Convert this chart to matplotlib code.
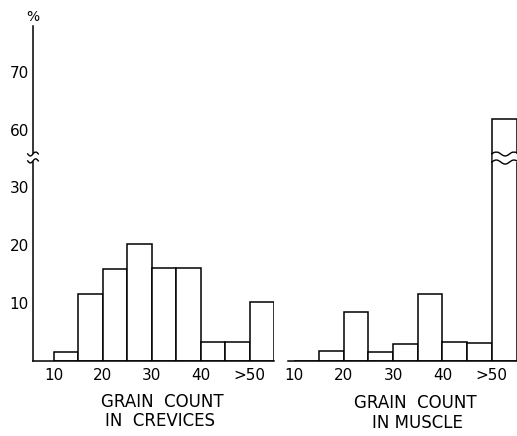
import numpy as np
import matplotlib.pyplot as plt
from matplotlib import transforms

# bin left edges (grain count), heights in percent
edges = [10, 15, 20, 25, 30, 35, 40, 45, 50]
crevices = [1.6, 11.5, 15.8, 20.1, 16.0, 16.0, 3.2, 3.2, 10.1]
muscle = [0.0, 1.8, 8.5, 1.6, 3.0, 11.5, 3.2, 3.1, 62.0]

xticks = [10, 20, 30, 40, 50]
xlabels = ['10', '20', '30', '40', '>50']
yticks = [10, 20, 30, 60, 70]

# broken y scale: 36..56.2 is cut out
B1, B2 = 36.0, 56.2


def fwd(v):
    v = np.asarray(v, dtype=float)
    return np.where(v <= B1, v, np.where(v >= B2, v - (B2 - B1), B1))


def inv(u):
    u = np.asarray(u, dtype=float)
    return np.where(u <= B1, u, u + (B2 - B1))


plt.rcParams['font.family'] = 'DejaVu Sans'

W, H = 517, 436
fig = plt.figure(figsize=(W / 100, H / 100), dpi=100)
bot = 75 / H
hgt = 0.769
ax1 = fig.add_axes([33 / W, bot, 241 / W, hgt])
ax2 = fig.add_axes([288 / W, bot, 229 / W, hgt])

for ax, vals, xl in [(ax1, crevices, (5.7, 55)), (ax2, muscle, (8.7, 55.1))]:
    ax.set_yscale('function', functions=(fwd, inv))
    ax.bar(edges, vals, width=5, align='edge', facecolor='white',
           edgecolor='black', linewidth=1.1)
    ax.set_xlim(*xl)
    ax.set_ylim(0, 78)
    ax.spines['top'].set_visible(False)
    ax.spines['right'].set_visible(False)
    ax.spines['bottom'].set_linewidth(1.1)
    ax.set_xticks(xticks)
    ax.set_xticklabels(xlabels, fontsize=11)
    ax.tick_params(axis='x', length=0, pad=5)

ax1.spines['left'].set_linewidth(1.1)
ax1.set_yticks(yticks)
ax1.set_yticklabels([str(t) for t in yticks], fontsize=11)
ax1.tick_params(axis='y', length=0, pad=3)
ax1.yaxis.set_minor_locator(plt.NullLocator())

ax2.spines['left'].set_visible(False)
ax2.set_yticks([])
ax2.yaxis.set_minor_locator(plt.NullLocator())

# break marks on the tall bar
t = np.linspace(0, 1, 60)
xs = 50.0 + t * 5.4
ax2.fill_between([50.2, 55.6], 34.4, 35.6, color='white', zorder=3,
                 clip_on=False)
for yb in (34.3, 35.7):
    ax2.plot(xs, yb + 0.35 * np.sin(t * 3.0 * np.pi), color='black',
             lw=1.0, zorder=4, clip_on=False)

# break mark on the y axis
tr = transforms.blended_transform_factory(ax1.transAxes, ax1.transData)
ax1.fill_between([-0.01, 0.01], 34.6, 35.6, color='white', transform=tr,
                 zorder=3, clip_on=False)
ts = np.linspace(-1, 1, 30)
for yb in (34.5, 35.7):
    ax1.plot(ts * 0.022, yb + 0.35 * np.sin(ts * np.pi), color='black',
             lw=1.0, transform=tr, zorder=4, clip_on=False)

fig.text(33 / W, 1 - 17 / H, '%', ha='center', va='center', fontsize=10)

fig.text(162 / W, 1 - 402 / H, 'GRAIN  COUNT', ha='center', va='center',
         fontsize=12)
fig.text(160 / W, 1 - 421 / H, 'IN  CREVICES', ha='center', va='center',
         fontsize=12)
fig.text(415 / W, 1 - 403 / H, 'GRAIN  COUNT', ha='center', va='center',
         fontsize=12)
fig.text(417 / W, 1 - 423 / H, 'IN MUSCLE', ha='center', va='center',
         fontsize=12)

fig.savefig('out.png', dpi=100)
